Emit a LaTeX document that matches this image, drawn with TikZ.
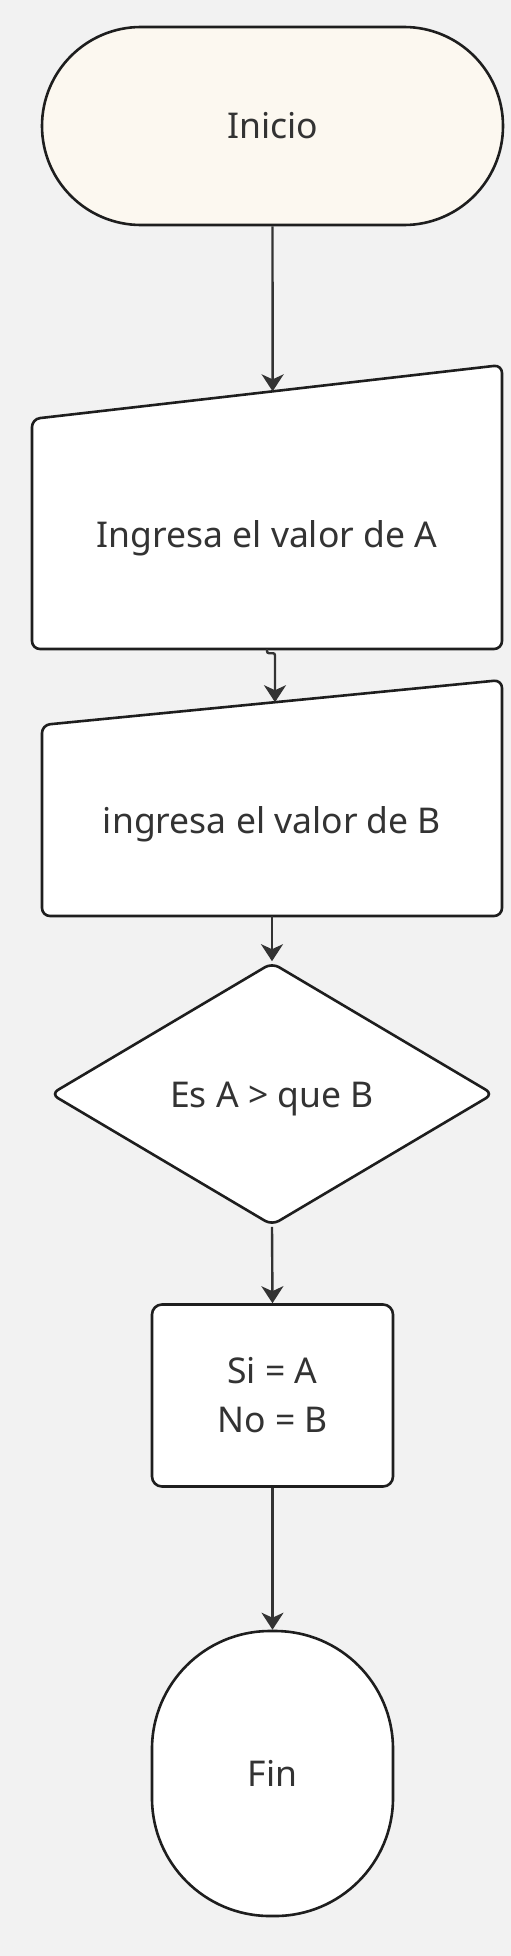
\documentclass[tikz,border=0pt]{standalone}
\usepackage{fontspec}
\setmainfont{Noto Sans}
\usetikzlibrary{arrows.meta,calc,shapes.geometric}
\definecolor{paper}{RGB}{242,242,242}
\definecolor{cream}{RGB}{252,248,240}
\definecolor{ink}{RGB}{30,30,30}
\definecolor{wire}{RGB}{51,51,51}

\begin{document}
\begin{tikzpicture}[x=1pt,y=-1pt,
  shapebox/.style={draw=ink,line width=2.6pt,fill=white},
  txt/.style={font=\fontsize{35.5}{49}\selectfont,text=wire,align=center,inner sep=0pt},
  oneline/.style={text height=26pt,text depth=0pt},
  arr/.style={draw=wire,line width=2.4pt,-{Stealth[length=17pt,width=22pt,inset=5pt]}}]
\fill[paper] (0,0) rectangle (511,1956);
% inicio
\node[shapebox,fill=cream,txt,oneline,rounded corners=99pt,minimum width=461pt,minimum height=198pt] (ini) at (272.5,126) {Inicio};
% entradas manuales
\draw[shapebox,rounded corners=8pt] (32,649) -- (32,419) -- (502,365) -- (502,649) -- cycle;
\node[txt,oneline,minimum width=470pt,minimum height=230pt] (in1) at (267,534) {Ingresa el valor de A};
\coordinate (in1top) at ($(32,419)!0.512!(502,365)$);
\draw[shapebox,rounded corners=8pt] (42,916) -- (42,725) -- (502,680) -- (502,916) -- cycle;
\node[txt,oneline,minimum width=460pt,minimum height=191pt] (in2) at (272,820.5) {ingresa el valor de B};
\coordinate (in2top) at ($(42,725)!0.5065!(502,680)$);
% decision y resultado
\node[shapebox,txt,oneline,diamond,rounded corners=8pt,minimum width=443pt,minimum height=263pt] (dec) at (272,1094) {Es A > que B};
\node[shapebox,txt,rounded corners=10pt,minimum width=241pt,minimum height=182pt] (res) at (272.5,1395.5) {Si = A\\No = B};
\node[shapebox,txt,oneline,rounded corners=118pt,minimum width=241pt,minimum height=285pt] (fin) at (272.5,1773.5) {Fin};
% conectores
\draw[arr] (ini.south) -- (in1top);
\draw[arr,rounded corners=2pt] (in1.south) -- ++(0,4) -| (in2top);
\draw[arr] (in2.south) -- (dec.north);
\draw[arr] (dec.south) -- (res.north);
\draw[arr] (res.south) -- (fin.north);
\end{tikzpicture}
\end{document}
